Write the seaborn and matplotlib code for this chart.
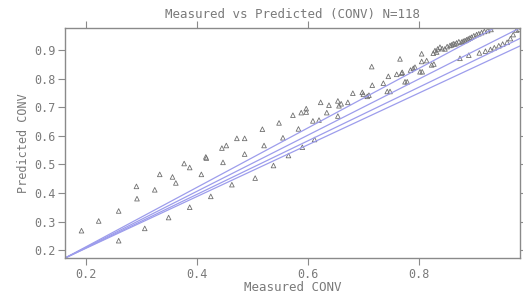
import numpy as np
import pandas as pd
import matplotlib
matplotlib.use("Agg")
import matplotlib.pyplot as plt
import seaborn as sns

# measured vs predicted values
measured = [
    0.192, 0.223, 0.259, 0.259, 0.291, 0.292, 0.306, 0.324, 0.333, 0.349,
    0.356, 0.362, 0.377, 0.387, 0.387, 0.408, 0.416, 0.417, 0.425, 0.445,
    0.447, 0.453, 0.463, 0.472, 0.486, 0.486, 0.505, 0.518, 0.521, 0.538,
    0.548, 0.555, 0.565, 0.583, 0.590, 0.573, 0.588, 0.597, 0.597, 0.609,
    0.612, 0.623, 0.634, 0.638, 0.654, 0.656, 0.654, 0.672, 0.681, 0.698,
    0.707, 0.710, 0.715, 0.716, 0.736, 0.743, 0.748, 0.745, 0.766, 0.769,
    0.770, 0.775, 0.779, 0.790, 0.793, 0.802, 0.806, 0.805, 0.814, 0.823,
    0.827, 0.805, 0.829, 0.834, 0.838, 0.847, 0.856, 0.862, 0.868, 0.877,
    0.883, 0.889, 0.895, 0.904, 0.913, 0.874, 0.909, 0.929, 0.944, 0.959,
    0.970, 0.976, 0.980, 0.842, 0.851, 0.859, 0.865, 0.872, 0.880, 0.886,
    0.892, 0.899, 0.908, 0.918, 0.924, 0.930, 0.832, 0.826, 0.890, 0.920,
    0.936, 0.951, 0.965, 0.760, 0.785, 0.700, 0.660, 0.620,
]
predicted = [
    0.268, 0.302, 0.337, 0.233, 0.423, 0.380, 0.276, 0.411, 0.465, 0.314,
    0.456, 0.435, 0.503, 0.489, 0.350, 0.465, 0.526, 0.522, 0.388, 0.557,
    0.507, 0.566, 0.429, 0.591, 0.591, 0.536, 0.452, 0.623, 0.566, 0.496,
    0.645, 0.593, 0.531, 0.624, 0.560, 0.672, 0.681, 0.695, 0.683, 0.652,
    0.587, 0.717, 0.681, 0.707, 0.722, 0.705, 0.669, 0.717, 0.749, 0.752,
    0.738, 0.742, 0.842, 0.777, 0.784, 0.755, 0.755, 0.808, 0.869, 0.819,
    0.822, 0.789, 0.789, 0.836, 0.840, 0.824, 0.824, 0.860, 0.863, 0.848,
    0.851, 0.887, 0.898, 0.904, 0.910, 0.904, 0.916, 0.922, 0.925, 0.928,
    0.933, 0.939, 0.945, 0.954, 0.961, 0.871, 0.890, 0.902, 0.915, 0.927,
    0.954, 0.970, 0.972, 0.905, 0.912, 0.918, 0.921, 0.929, 0.931, 0.936,
    0.942, 0.950, 0.957, 0.965, 0.968, 0.972, 0.893, 0.889, 0.882, 0.896,
    0.908, 0.921, 0.940, 0.815, 0.830, 0.745, 0.712, 0.655,
]
# reference lines fanning out from the lower-left corner
line_anchor = (0.162, 0.172)
line_slopes = [1.04, 0.982, 0.937, 0.905]
line_x = [0.162, 1.0]

df = pd.DataFrame({"Measured": measured, "Predicted": predicted})

sns.set_style("white")
plt.rcParams["font.family"] = ["DejaVu Sans Mono"]
text_color = "#7a7a7a"

fig = plt.figure(figsize=(5.23, 2.95), dpi=100)
ax = fig.add_axes([0.124, 0.125, 0.870, 0.780])

x0, y0 = line_anchor
for m in line_slopes:
    sns.lineplot(x=line_x, y=[y0 + m * (v - x0) for v in line_x], ax=ax,
                 color="#9d9dec", linewidth=0.9)

sns.scatterplot(data=df, x="Measured", y="Predicted", ax=ax, marker="^",
                s=11, facecolor="none", edgecolor="#707070", linewidth=0.6)

ax.set_xlim(0.162, 0.982)
ax.set_ylim(0.172, 0.977)
ax.set_xticks([0.2, 0.4, 0.6, 0.8])
ax.set_yticks([0.2, 0.3, 0.4, 0.5, 0.6, 0.7, 0.8, 0.9])
ax.set_xticklabels(["0.2", "0.4", "0.6", "0.8"])
ax.set_yticklabels(["0.2", "0.3", "0.4", "0.5", "0.6", "0.7", "0.8", "0.9"])
ax.tick_params(axis="both", which="both", direction="out", length=5,
               width=0.8, color="#8a8a8a", labelsize=8.5, labelcolor=text_color,
               top=True, right=True, bottom=True, left=True, pad=2)

for s in ax.spines.values():
    s.set_color("#8a8a8a")
    s.set_linewidth(1.0)

ax.set_title("Measured vs Predicted (CONV) N=118", fontsize=9,
             color=text_color, pad=7)
ax.set_xlabel("Measured CONV", fontsize=9, color=text_color, labelpad=0)
ax.set_ylabel("Predicted CONV", fontsize=8.5, color=text_color, labelpad=3)

fig.savefig("out.png", dpi=100)
plt.close(fig)
